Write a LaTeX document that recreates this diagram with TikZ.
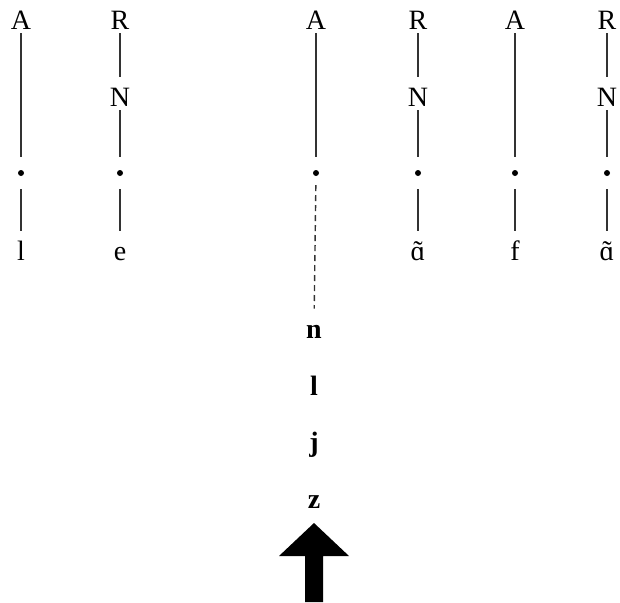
\documentclass[tikz,border=0pt]{standalone}
\usepackage{fontspec}
\setmainfont{Liberation Serif}

\begin{document}
\begin{tikzpicture}[x=0.5pt, y=-0.5pt,
    seg/.style={font=\fontsize{14}{17}\selectfont, inner sep=2pt, text height=12.5pt, text depth=0pt, anchor=base},
    cand/.style={seg, font=\fontsize{14}{17}\selectfont\bfseries},
    slot/.style={circle, fill, inner sep=0pt, minimum size=3pt, outer sep=6.5pt},
    tie/.style={line width=0.7pt, color=black!80}]
    \useasboundingbox (0,0) rectangle (620,602);

    \foreach \c/\x in {a/21, b/120, c/316, d/418, e/515, f/607}
        \node[slot] (d\c) at (\x, 173) {};

    \foreach \c/\x in {a/21, c/316, e/515} {
        \node[seg] (A\c) at (\x, 29) {A};
        \draw[tie] (A\c) -- (d\c);
    }
    \foreach \c/\x in {b/120, d/418, f/607} {
        \node[seg] (R\c) at (\x, 29) {R};
        \node[seg] (N\c) at (\x, 106) {N};
        \draw[tie] (R\c) -- (N\c);
        \draw[tie] (N\c) -- (d\c);
    }
    \foreach \c/\x/\t in {a/21/l, b/120/e, d/418/{\accent"02DC ɑ}, e/515/f, f/607/{\accent"02DC ɑ}} {
        \node[seg] (s\c) at (\x, 260) {\t};
        \draw[tie] (d\c) -- (s\c);
    }

    \node[cand] (n) at (314, 338) {n};
    \node[cand] (l) at (314, 395) {l};
    \node[cand] (j) at (314, 451) {j};
    \node[cand] (z) at (314, 508) {z};
    \draw[tie, dash pattern=on 3pt off 2pt, shorten <=-2pt] (dc) -- (n);

    \fill (314, 523) -- (349, 556) -- (323, 556) -- (323, 602)
        -- (305, 602) -- (305, 556) -- (279, 556) -- cycle;

\end{tikzpicture}
\end{document}
